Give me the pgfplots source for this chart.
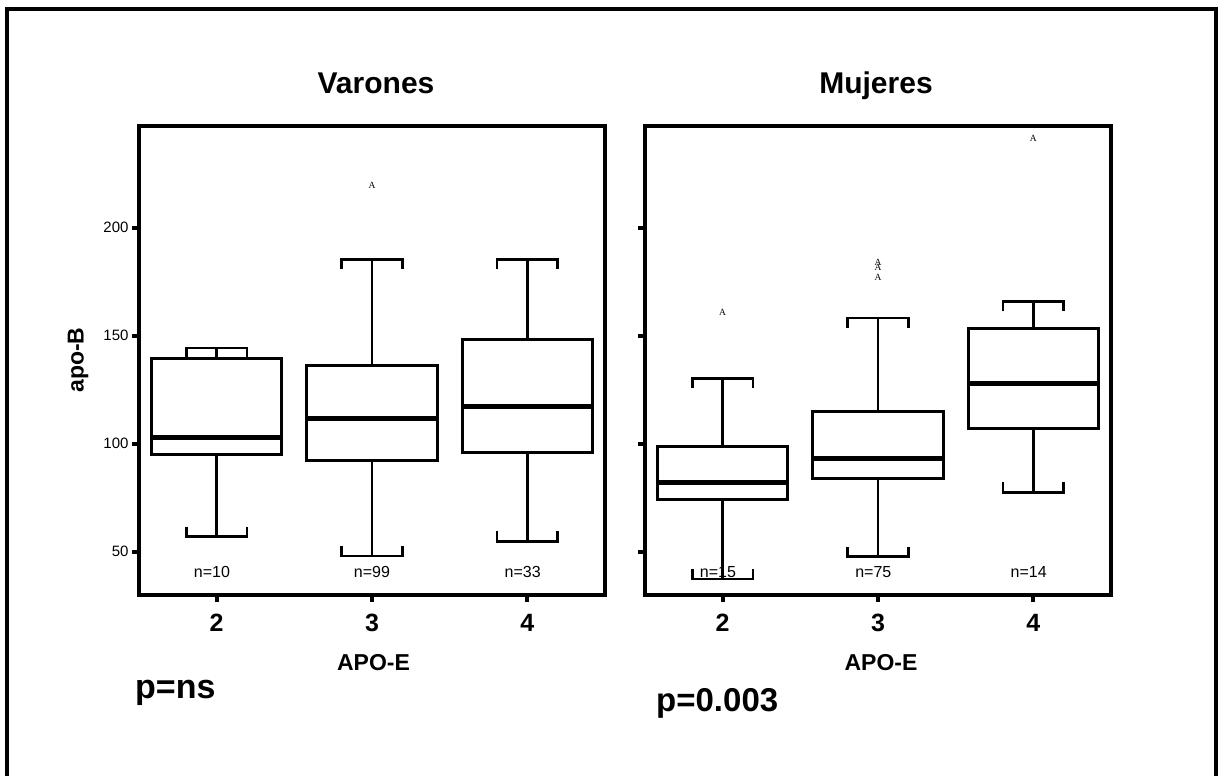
\documentclass[border=0pt]{standalone}
\usepackage{fontspec}
\setmainfont{Liberation Sans}
\newfontfamily\outlierfont{Liberation Serif}
\usepackage{pgfplots}
\pgfplotsset{compat=1.18}

\pgfplotsset{
  apopanel/.style={
    scale only axis,
    width=466pt, height=469pt,
    anchor=south west,
    xmin=1.5, xmax=4.5, ymin=30, ymax=247,
    axis line style={line width=4.5pt},
    xtick={2,3,4}, xticklabels={2,3,4},
    ytick={50,100,150,200},
    tick align=outside,
    xtick pos=bottom, ytick pos=left,
    major tick length=7pt,
    major tick style={black, line width=4pt},
    xticklabel style={font=\fontsize{25}{25}\selectfont\bfseries, yshift=-9pt},
    yticklabel style={font=\fontsize{15}{15}\selectfont},
    clip=false,
  },
  boxedge/.style={black, line width=3pt, line join=miter, mark=none},
  medianline/.style={black, line width=5pt, mark=none},
  whiskerline/.style={black, line width=2.5pt, mark=none},
  outlier/.style={only marks, mark=none,
    nodes near coords={A},
    every node near coord/.append style={anchor=center, inner sep=0pt,
      font=\outlierfont\fontsize{9.5}{9.5}\selectfont}},
}
\tikzset{nlabel/.style={font=\fontsize{16}{16}\selectfont, inner sep=0pt}}

% one box: position, lower whisker, lower quartile, median, upper quartile, upper whisker
% box half width 0.42, cap half width 0.195, cap ends 4.6 units long
\newcommand\apobox[6]{%
  \pgfmathsetmacro\bxL{#1-0.42}\pgfmathsetmacro\bxR{#1+0.42}%
  \pgfmathsetmacro\cpL{#1-0.195}\pgfmathsetmacro\cpR{#1+0.195}%
  \pgfmathsetmacro\loT{#2+4.6}\pgfmathsetmacro\upT{#6-4.6}%
  \edef\apotemp{%
    \noexpand\addplot[whiskerline] coordinates {(#1,#5) (#1,#6)};
    \noexpand\addplot[whiskerline] coordinates {(\cpL,\upT) (\cpL,#6) (\cpR,#6) (\cpR,\upT)};
    \noexpand\addplot[whiskerline] coordinates {(#1,#3) (#1,#2)};
    \noexpand\addplot[whiskerline] coordinates {(\cpL,\loT) (\cpL,#2) (\cpR,#2) (\cpR,\loT)};
    \noexpand\addplot[boxedge] coordinates {(\bxL,#3) (\bxR,#3) (\bxR,#5) (\bxL,#5) (\bxL,#3) (\bxR,#3)};
    \noexpand\addplot[medianline] coordinates {(\bxL,#4) (\bxR,#4)};
  }%
  \apotemp
}

\begin{document}
\begin{tikzpicture}
  \useasboundingbox (0pt,0pt) rectangle (1218pt,776pt);
  % outer frame
  \draw[line width=4pt] (7pt,0pt) -- (7pt,766.5pt) -- (1216pt,766.5pt) -- (1216pt,0pt);

  % ---- Varones ----
  \begin{axis}[apopanel, at={(139pt,181pt)},
      yticklabels={50,100,150,200}]
    \apobox{2}{57}{95}{102.8}{139.5}{144.3}
    \apobox{3}{48}{92.2}{111.7}{136.2}{185.3}
    \apobox{4}{54.8}{96}{117.4}{148}{185.3}
    \addplot[outlier] coordinates {(3,219.3)};
    \node[nlabel] at (axis cs:1.97,40.7) {n=10};
    \node[nlabel] at (axis cs:3,40.7) {n=99};
    \node[nlabel] at (axis cs:3.97,40.7) {n=33};
  \end{axis}

  % ---- Mujeres ----
  \begin{axis}[apopanel, at={(645pt,181pt)},
      yticklabels={,,,}]
    \apobox{2}{37.4}{74.4}{82.1}{98.8}{130.2}
    \apobox{3}{47.7}{84.1}{93.3}{115}{158.1}
    \apobox{4}{77.5}{107.1}{127.9}{153.3}{165.8}
    \addplot[outlier] coordinates {(2,161) (3,183.8) (3,181.5) (3,176.9) (4,241.3)};
    \node[nlabel] at (axis cs:1.97,40.7) {n=15};
    \node[nlabel] at (axis cs:2.97,40.7) {n=75};
    \node[nlabel] at (axis cs:3.97,40.7) {n=14};
  \end{axis}

  % titles and labels
  \node[font=\fontsize{30}{30}\selectfont\bfseries, inner sep=0pt, anchor=base] at (376pt,682.5pt) {Varones};
  \node[font=\fontsize{30}{30}\selectfont\bfseries, inner sep=0pt, anchor=base] at (876pt,682.5pt) {Mujeres};
  \node[font=\fontsize{23}{23}\selectfont\bfseries, inner sep=0pt, rotate=90] at (78pt,416pt) {apo-B};
  \node[font=\fontsize{23}{23}\selectfont\bfseries, inner sep=0pt] at (373.5pt,113.5pt) {APO-E};
  \node[font=\fontsize{23}{23}\selectfont\bfseries, inner sep=0pt] at (881pt,113.5pt) {APO-E};
  \node[font=\fontsize{34}{34}\selectfont\bfseries, inner sep=0pt, anchor=base west] at (135pt,77pt) {p=ns};
  \node[font=\fontsize{33}{33}\selectfont\bfseries, inner sep=0pt, anchor=base west] at (656pt,64.3pt) {p=0.003};
\end{tikzpicture}
\end{document}
